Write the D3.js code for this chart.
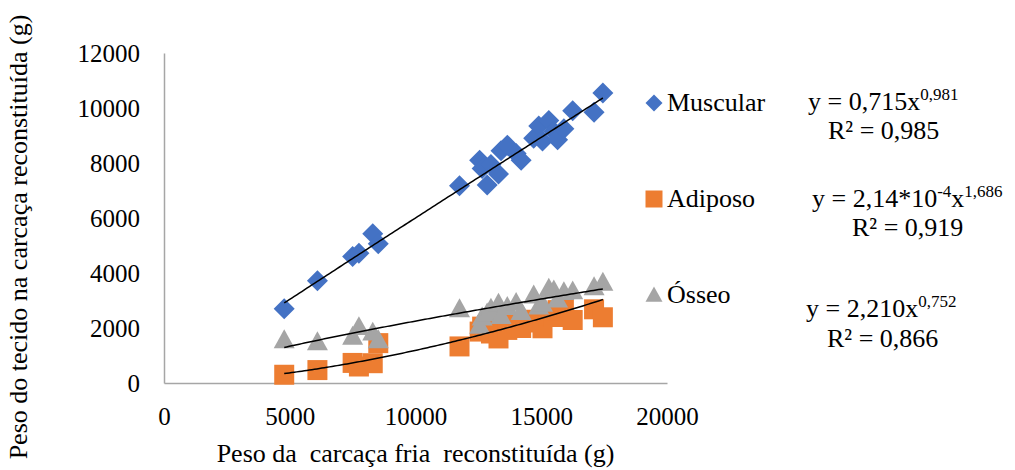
<!DOCTYPE html>
<html>
<head>
<meta charset="utf-8">
<script src="https://cdn.jsdelivr.net/npm/d3@7"></script>
<style>
  body { margin: 0; background: #fff; }
  svg { font-family: "Liberation Serif", "Times New Roman", serif; }
</style>
</head>
<body>
<svg id="chart" width="1015" height="470"></svg>
<script>
// carcass weight (g) per animal, shared by the three tissues
const carcass = [4780, 6100, 7500, 7750, 8300, 8520, 11750, 12550, 12650, 12850, 13000, 13300, 13400,
  13650, 14000, 14200, 14700, 14900, 15050, 15300, 15500, 15650, 15900, 16250, 17100, 17450];
const muscular = [2700, 3720, 4600, 4720, 5430, 5060, 7170, 8100, 7800, 7200, 7950, 7600, 8450,
  8650, 8350, 8100, 8900, 9350, 8800, 9550, 9150, 8850, 9250, 9900, 9850, 10550];
const adiposo = [300, 470, 730, 600, 720, 1450, 1330, 1870, 2050, 2100, 1800, 1620, 2200,
  1930, 2150, 2000, 2300, 2200, 1990, 2450, 2400, 2650, 2750, 2290, 2680, 2390];
const osseo = [1570, 1500, 1700, 2050, 1850, 1570, 2700, 2100, 2400, 2550, 2720, 2900, 2450,
  2780, 2930, 2600, 3200, 2800, 2900, 3450, 3380, 3050, 3320, 3350, 3500, 3660];

const seriesNames = ["Muscular", "Adiposo", "Ósseo"];
// power fits y = a * x^b
const fitA = [0.715, 2.14e-4, 2.210];
const fitB = [0.981, 1.686, 0.752];
const r2 = ["0,985", "0,919", "0,866"];

const xTicks = [0, 5000, 10000, 15000, 20000];
const yTicks = [0, 2000, 4000, 6000, 8000, 10000, 12000];

const svg = d3.select("#chart");
const x = d3.scaleLinear().domain([0, 20000]).range([164, 667]);
const y = d3.scaleLinear().domain([0, 12000]).range([383, 53]);

const colors = ["#4472C4", "#ED7D31", "#A5A5A5"];

// axes
const xAxis = svg.append("g").attr("transform", "translate(0,383)")
  .call(d3.axisBottom(x).tickValues(xTicks).tickSize(0).tickPadding(24).tickFormat(d3.format("d")));
const yAxis = svg.append("g").attr("transform", "translate(164,0)")
  .call(d3.axisLeft(y).tickValues(yTicks).tickSize(0).tickPadding(24).tickFormat(d3.format("d")));
[xAxis, yAxis].forEach(a => {
  a.select(".domain").attr("stroke", "#a6a6a6").attr("stroke-width", 1.5);
  a.selectAll("text").attr("font-family", "Liberation Serif").attr("font-size", 25).attr("fill", "#000");
});

// markers
const shapes = [
  s => `M0,${-s}L${s},0L0,${s}L${-s},0Z`,
  s => `M${-s},${-s}H${s}V${s}H${-s}Z`,
  s => `M0,${-s}L${s},${s * 0.8}H${-s}Z`
];
const sizes = [10.5, 10, 10.5];
const allY = [muscular, adiposo, osseo];

allY.forEach((vals, i) => {
  svg.append("g").selectAll("path")
    .data(carcass.map((c, k) => [c, vals[k]]))
    .join("path")
    .attr("transform", d => `translate(${x(d[0])},${y(d[1])})`)
    .attr("d", shapes[i](sizes[i]))
    .attr("fill", colors[i]);
});

// trend lines
const xMin = d3.min(carcass), xMax = d3.max(carcass);
const line = d3.line().x(d => x(d[0])).y(d => y(d[1]));
fitA.forEach((a, i) => {
  const pts = d3.range(xMin, xMax + 1, 100).concat([xMax]).map(v => [v, a * Math.pow(v, fitB[i])]);
  svg.append("path").attr("d", line(pts)).attr("fill", "none")
    .attr("stroke", "#000").attr("stroke-width", 1.5);
});

// legend
const legendY = [103, 199, 295];
seriesNames.forEach((n, i) => {
  svg.append("path").attr("transform", `translate(654,${legendY[i]})`)
    .attr("d", shapes[i](8.5)).attr("fill", colors[i]);
  svg.append("text").attr("x", 667).attr("y", legendY[i] + 8)
    .attr("font-size", 26).text(n);
});

// equations; arrays inside parts are superscripts
function eq(xPos, yPos, parts) {
  const t = svg.append("text").attr("x", xPos).attr("y", yPos).attr("font-size", 26);
  let raised = false;
  parts.forEach(p => {
    if (Array.isArray(p)) {
      t.append("tspan").attr("font-size", 17).attr("dy", raised ? 0 : -10).text(p[0]);
      raised = true;
    } else {
      t.append("tspan").attr("dy", raised ? 10 : 0).text(p);
      raised = false;
    }
  });
}
eq(808, 110, ["y = 0,715x", ["0,981"]]);
eq(828, 139, ["R² = " + r2[0]]);
eq(812, 207, ["y = 2,14*10", ["-4"], "x", ["1,686"]]);
eq(852, 236, ["R² = " + r2[1]]);
eq(806, 317, ["y = 2,210x", ["0,752"]]);
eq(827, 347, ["R² = " + r2[2]]);

// axis titles
svg.append("text").attr("x", 415.5).attr("y", 462).attr("text-anchor", "middle")
  .attr("font-size", 26).style("white-space", "pre")
  .text("Peso da  carcaça fria  reconstituída (g)");
svg.append("text").attr("transform", "translate(27,237) rotate(-90)").attr("text-anchor", "middle")
  .attr("font-size", 26).text("Peso do tecido na carcaça reconstituída (g)");
</script>
</body>
</html>
